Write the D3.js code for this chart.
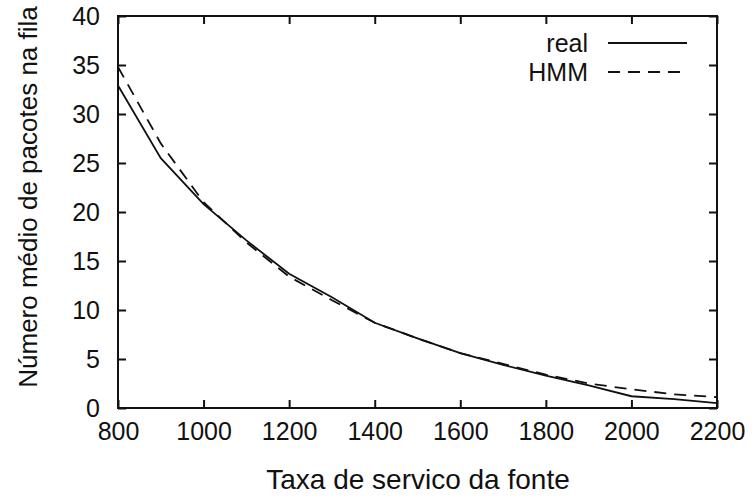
<!DOCTYPE html>
<html>
<head>
<meta charset="utf-8">
<script src="https://cdn.jsdelivr.net/npm/d3@7"></script>
<style>
  body { margin: 0; background: #fff; }
  svg { display: block; font-family: "Liberation Sans", Arial, sans-serif; }
</style>
</head>
<body>
<svg id="chart" width="755" height="500"></svg>
<script>
// service rate of the source (x) and mean queue length (y)
const rates     = [800, 900, 1000, 1100, 1200, 1300, 1400, 1500, 1600, 1700, 1800, 1900, 2000, 2100, 2200];
const realVals  = [32.9, 25.5, 20.8, 17.1, 13.7, 11.3, 8.7, 7.1, 5.6, 4.4, 3.3, 2.3, 1.2, 0.9, 0.5];
const hmmVals   = [34.8, 27.0, 21.0, 16.9, 13.4, 11.0, 8.7, 7.1, 5.6, 4.5, 3.4, 2.5, 1.9, 1.4, 1.1];
const xTicks    = [800, 1000, 1200, 1400, 1600, 1800, 2000, 2200];
const yTicks    = [0, 5, 10, 15, 20, 25, 30, 35, 40];
const seriesNames = ['real', 'HMM'];

const margin = { left: 118, right: 38, top: 16, bottom: 92 };
const W = 755, H = 500;
const svg = d3.select('#chart');

const x = d3.scaleLinear().domain([800, 2200]).range([margin.left, W - margin.right]);
const y = d3.scaleLinear().domain([0, 40]).range([H - margin.bottom, margin.top]);

const ink = '#111';
const tickLen = 8;
const dash = '12,8';
const fmt = d3.format('d');

// inward ticks on all four sides
const axes = [
  { g: d3.axisBottom(x).tickValues(xTicks).tickSize(-tickLen).tickPadding(14), t: `translate(0,${y(0)})`, lab: true },
  { g: d3.axisTop(x).tickValues(xTicks).tickSize(-tickLen), t: `translate(0,${y(40)})`, lab: false },
  { g: d3.axisLeft(y).tickValues(yTicks).tickSize(-tickLen).tickPadding(18), t: `translate(${x(800)},0)`, lab: true },
  { g: d3.axisRight(y).tickValues(yTicks).tickSize(-tickLen), t: `translate(${x(2200)},0)`, lab: false }
];
axes.forEach(a => {
  const g = svg.append('g').attr('transform', a.t).call(a.g.tickFormat(fmt));
  g.select('.domain').remove();
  g.selectAll('.tick line').attr('stroke', ink).attr('stroke-width', 2);
  g.selectAll('.tick text').attr('font-size', 25).attr('fill', ink)
    .attr('font-family', '"Liberation Sans", Arial, sans-serif');
  if (!a.lab) g.selectAll('.tick text').remove();
});

// frame
svg.append('rect')
  .attr('x', x(800)).attr('y', y(40))
  .attr('width', x(2200) - x(800)).attr('height', y(0) - y(40))
  .attr('fill', 'none').attr('stroke', ink).attr('stroke-width', 2);

const line = d3.line().x((d, i) => x(rates[i])).y(d => y(d));

svg.append('path').datum(realVals)
  .attr('d', line).attr('fill', 'none').attr('stroke', ink).attr('stroke-width', 1.8);
svg.append('path').datum(hmmVals)
  .attr('d', line).attr('fill', 'none').attr('stroke', ink).attr('stroke-width', 1.8)
  .attr('stroke-dasharray', dash);

// legend
const leg = svg.append('g');
seriesNames.forEach((name, i) => {
  const ly = 43 + i * 29;
  leg.append('text').attr('x', 588).attr('y', ly).attr('dy', '0.35em')
    .attr('text-anchor', 'end').attr('font-size', 25).attr('fill', ink).text(name);
  leg.append('line').attr('x1', 608).attr('x2', 687).attr('y1', ly).attr('y2', ly)
    .attr('stroke', ink).attr('stroke-width', 1.8)
    .attr('stroke-dasharray', i === 1 ? dash : null);
});

// axis titles
svg.append('text').attr('x', 418).attr('y', 489)
  .attr('text-anchor', 'middle').attr('font-size', 28).attr('fill', ink)
  .text('Taxa de servico da fonte');
svg.append('text')
  .attr('transform', `translate(37,197) rotate(-90)`)
  .attr('text-anchor', 'middle').attr('font-size', 26).attr('fill', ink)
  .text('Número médio de pacotes na fila');
</script>
</body>
</html>
